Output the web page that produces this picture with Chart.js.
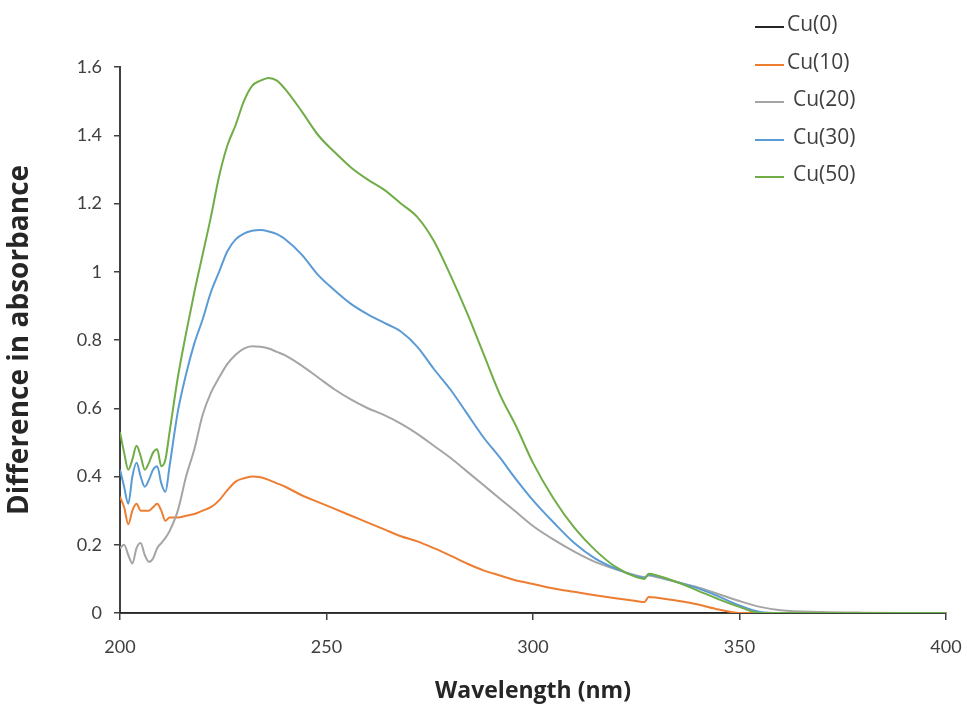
<!DOCTYPE html>
<html>
<head>
<meta charset="utf-8">
<script src="https://cdn.jsdelivr.net/npm/chart.js@4"></script>
<style>
  html, body { margin: 0; padding: 0; background: #fff; overflow: hidden; }
  #wrap { position: relative; width: 967px; height: 706px; }
  #spectrumChart { display: block; }
  #legend { position: absolute; left: 755px; top: 9px; font-family: "Open Sans", Lato, sans-serif; font-size: 21px; color: #404040; }
  #legend .item { position: relative; height: 37.5px; }
  #legend .swatch { position: absolute; left: 0; top: 17px; width: 29px; height: 2px; }
  #legend .label { position: absolute; left: 32px; top: 0; white-space: nowrap; }
</style>
</head>
<body>
<div id="wrap">
  <canvas id="spectrumChart" width="967" height="706"></canvas>
  <div id="legend"></div>
</div>
<script>
(function () {
  "use strict";

  const wavelengths = [200, 201, 202, 203, 204, 205, 206, 207, 208, 209, 210, 211, 212, 214, 216, 218, 220, 222, 224, 226, 228, 230, 232, 234, 236, 238, 240, 244, 248, 252, 256, 260, 264, 268, 272, 276, 280, 284, 288, 292, 296, 300, 305, 310, 315, 320, 325, 327, 328, 330, 335, 340, 345, 350, 355, 360, 370, 380, 390, 400];

  const cu0 = wavelengths.map(() => 0);

  const cu10 = [0.34, 0.31, 0.26, 0.30, 0.32, 0.30, 0.30, 0.30, 0.31, 0.32, 0.30, 0.27, 0.28, 0.28, 0.285, 0.29, 0.30, 0.31, 0.33, 0.36, 0.385, 0.395, 0.40, 0.398, 0.39, 0.38, 0.37, 0.345, 0.325, 0.305, 0.285, 0.265, 0.245, 0.225, 0.21, 0.19, 0.168, 0.145, 0.125, 0.11, 0.095, 0.085, 0.072, 0.062, 0.052, 0.043, 0.035, 0.032, 0.047, 0.045, 0.036, 0.025, 0.01, 0, 0, 0, 0, 0, 0, 0];

  const cu20 = [0.19, 0.20, 0.17, 0.145, 0.19, 0.205, 0.17, 0.15, 0.16, 0.19, 0.205, 0.22, 0.24, 0.30, 0.40, 0.48, 0.58, 0.645, 0.69, 0.73, 0.757, 0.775, 0.782, 0.78, 0.775, 0.765, 0.755, 0.725, 0.69, 0.655, 0.625, 0.60, 0.58, 0.555, 0.525, 0.49, 0.455, 0.415, 0.375, 0.335, 0.295, 0.255, 0.215, 0.18, 0.15, 0.128, 0.11, 0.105, 0.11, 0.105, 0.09, 0.075, 0.055, 0.035, 0.018, 0.008, 0.003, 0.001, 0, 0];

  const cu30 = [0.42, 0.37, 0.32, 0.40, 0.44, 0.40, 0.37, 0.39, 0.42, 0.43, 0.38, 0.355, 0.43, 0.59, 0.70, 0.79, 0.86, 0.94, 1.00, 1.06, 1.095, 1.112, 1.12, 1.122, 1.118, 1.11, 1.095, 1.05, 0.99, 0.945, 0.905, 0.875, 0.85, 0.825, 0.78, 0.715, 0.655, 0.585, 0.515, 0.455, 0.39, 0.33, 0.265, 0.205, 0.16, 0.13, 0.108, 0.103, 0.112, 0.108, 0.09, 0.072, 0.048, 0.022, 0.003, 0, 0, 0, 0, 0];

  const cu50 = [0.53, 0.47, 0.42, 0.45, 0.49, 0.46, 0.42, 0.44, 0.47, 0.48, 0.43, 0.45, 0.53, 0.69, 0.82, 0.94, 1.05, 1.16, 1.28, 1.37, 1.43, 1.50, 1.545, 1.56, 1.568, 1.56, 1.535, 1.47, 1.40, 1.35, 1.305, 1.27, 1.24, 1.20, 1.16, 1.09, 0.99, 0.88, 0.76, 0.64, 0.545, 0.44, 0.335, 0.25, 0.185, 0.135, 0.105, 0.10, 0.115, 0.11, 0.09, 0.065, 0.04, 0.018, 0, 0, 0, 0, 0, 0];

  const seriesNames = ["Cu(0)", "Cu(10)", "Cu(20)", "Cu(30)", "Cu(50)"];
  const seriesColors = ["#262626", "#ed7d31", "#a5a5a5", "#5b9bd5", "#70ad47"];
  const seriesValues = [cu0, cu10, cu20, cu30, cu50];

  const xTicks = [200, 250, 300, 350, 400];
  const yTicks = [0, 0.2, 0.4, 0.6, 0.8, 1, 1.2, 1.4, 1.6];

  const axisColor = "#404040";
  const tickFont = { family: "Lato, 'Open Sans', sans-serif", size: 18 };
  const titleFamily = "'Open Sans', Lato, sans-serif";

  const datasets = seriesNames.map((name, i) => ({
    label: name,
    data: wavelengths.map((w, j) => ({ x: w, y: seriesValues[i][j] })),
    borderColor: seriesColors[i],
    borderWidth: 2,
    pointRadius: 0,
    cubicInterpolationMode: "monotone",
    fill: false,
    order: i === 0 ? 10 : 5 - i,
  }));

  // html legend, stacked top right like the original
  const legend = document.getElementById("legend");
  seriesNames.forEach((name, i) => {
    const item = document.createElement("div");
    item.className = "item";
    const sw = document.createElement("div");
    sw.className = "swatch";
    sw.style.background = seriesColors[i];
    const lab = document.createElement("div");
    lab.className = "label";
    lab.textContent = name;
    if (i > 1) lab.style.left = "38px";
    item.appendChild(sw);
    item.appendChild(lab);
    legend.appendChild(item);
  });

  new Chart(document.getElementById("spectrumChart"), {
    type: "line",
    data: { datasets },
    options: {
      responsive: false,
      animation: false,
      layout: { padding: { left: 0, top: 67, right: 21, bottom: 0 } },
      plugins: { legend: { display: false }, tooltip: { enabled: false } },
      scales: {
        x: {
          type: "linear",
          min: 200,
          max: 400,
          afterBuildTicks: (s) => { s.ticks = xTicks.map((v) => ({ value: v })); },
          afterFit: (s) => {
            s.height = 93;
            s.paddingLeft = 0;
            s.paddingRight = 0;
          },
          grid: { display: true, drawOnChartArea: false, drawTicks: true, tickLength: 7, color: axisColor, lineWidth: 1.5 },
          border: { display: true, color: axisColor, width: 2 },
          ticks: { color: axisColor, font: tickFont, padding: 16, maxRotation: 0 },
          title: {
            display: true,
            text: "Wavelength (nm)",
            color: "#262626",
            font: { family: titleFamily, size: 23, weight: "bold" },
            padding: { top: 0, bottom: 1 },
          },
        },
        y: {
          min: 0,
          max: 1.6,
          afterBuildTicks: (s) => { s.ticks = yTicks.map((v) => ({ value: v })); },
          afterFit: (s) => { s.width = 120; },
          grid: { display: true, drawOnChartArea: false, drawTicks: true, tickLength: 6, color: axisColor, lineWidth: 1.5 },
          border: { display: true, color: axisColor, width: 2 },
          ticks: {
            color: axisColor,
            font: tickFont,
            padding: 12,
            callback: (v) => String(Math.round(v * 10) / 10),
          },
          title: {
            display: true,
            text: "Difference in absorbance",
            color: "#262626",
            font: { family: titleFamily, size: 28, weight: "bold" },
            padding: { top: 3, bottom: 0 },
          },
        },
      },
    },
  });
})();
</script>
</body>
</html>
